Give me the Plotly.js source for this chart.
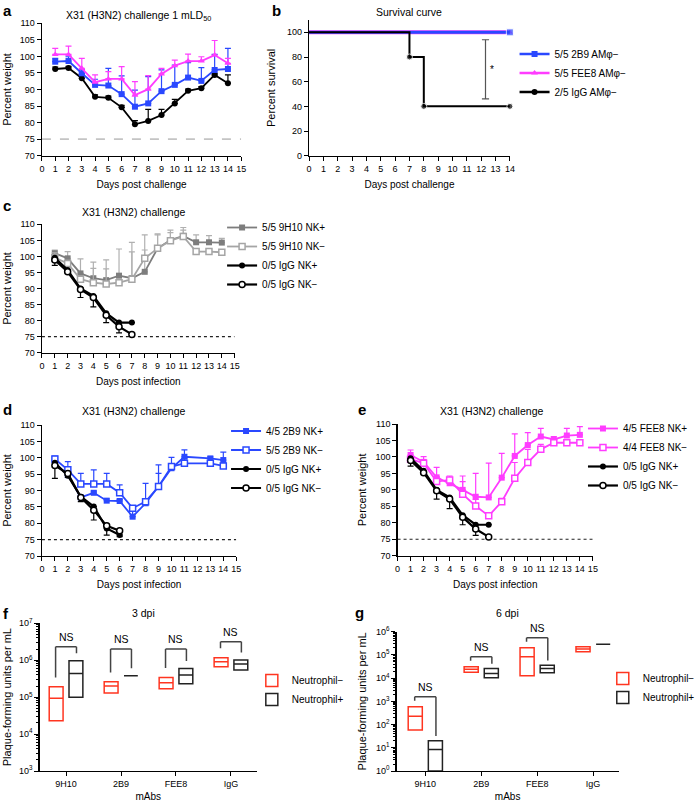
<!DOCTYPE html>
<html><head><meta charset="utf-8">
<script src="https://cdn.plot.ly/plotly-3.0.1.min.js"></script>
<style>html,body{margin:0;padding:0;background:#fff}#chart{width:700px;height:805px}</style>
</head><body><div id="chart"></div>
<script>
// ================= DATA =================
// Panel a: weight after 1 mLD50 X31 challenge (AMφ depleted)
const daysA = [1,2,3,4,5,6,7,8,9,10,11,12,13,14];
const a2B9     = [98.4,98.6,94.9,91.4,91.2,88.6,84.8,85.8,89.5,91.4,93.6,92.6,95.9,96.2];
const a2B9Err  = [1.0,1.3,1.2,1.7,5.2,5.5,5.0,8.1,6.4,6.0,4.5,4.0,4.7,6.2];
const aFEE8    = [100.6,100.6,96.4,92.2,93.2,93.2,88.3,90.1,94.7,97.2,98.6,98.6,100.4,97.9];
const aFEE8Err = [1.8,2.5,3.0,2.2,2.2,3.7,4.1,4.1,1.7,1.7,2.1,1.3,4.4,1.5];
const aIgG     = [96.2,96.5,93.4,87.8,87.5,84.6,79.5,80.5,82.3,85.8,89.6,90.4,94.4,91.9];
const aIgGErr  = [0.6,0.5,1.2,0.6,0.5,0.6,1.1,3.5,1.7,1.2,0.5,0.5,0.5,2.5];

// Panel b: survival
const survDays2B9  = [0,14];  const surv2B9  = [100,100];
const survDaysFEE8 = [0,14];  const survFEE8 = [100,100];
const survDaysIgG  = [0,7,8,14]; const survIgG = [100,80,40,40];
const survNames = ['5/5 2B9 AMφ−','5/5 FEE8 AMφ−','2/5 IgG AMφ−'];

// Panel c: 9H10 with NK depletion
const daysC = [1,2,3,4,5,6,7,8,9,10,11,12,13,14];
const c9H10Pos    = [101.0,99.4,94.7,93.2,92.6,94.0,93.2,95.2,102.5,105.1,106.4,104.4,104.4,104.3];
const c9H10PosErr = [1.0,2.1,4.5,5.0,6.3,8.3,11.2,11.5,4.5,3.1,2.6,2.3,2.1,1.3];
const c9H10Neg    = [99.6,97.8,92.9,91.8,91.4,91.8,92.9,99.4,102.5,104.9,106.2,101.5,101.5,101.3];
const c9H10NegErr = [1.5,1.0,1.0,4.5,4.7,1.0,8.5,2.6,4.2,2.5,2.0,0.5,0.5,0.5];
// IgG control groups shared by panels c and e
const daysIgG7 = [1,2,3,4,5,6,7];
const ctrlIgGPos       = [99.6,95.8,90.0,87.7,82.3,79.4,79.4];
const ctrlIgGPosErrLow = [2.4,0.5,2.8,3.4,2.9,3.2,0];
const ctrlIgGNeg       = [98.9,95.2,89.7,87.2,81.7,78.1,75.7];

// Panel d: 2B9 with NK depletion
const daysD = [1,2,3,4,5,6,7,8,9,10,11,13,14];
const d2B9Pos    = [98.3,94.7,87.9,89.3,86.9,86.8,82.0,86.1,91.2,96.8,100.3,99.8,99.3];
const d2B9PosErr = [0.8,1.5,0.5,0.5,0.5,0.5,2.0,1.0,4.0,0.8,2.1,0.5,2.4];
const d2B9Neg    = [99.6,96.3,92.0,92.0,92.0,89.3,84.6,86.6,91.2,97.3,98.3,98.3,97.5];
const d2B9NegErr = [0.9,2.5,3.2,4.3,3.2,2.4,0.5,5.6,6.6,2.8,1.5,0.5,0.5];
const daysIgG6 = [1,2,3,4,5,6];
const dIgGPos       = [98.5,94.5,88.1,85.1,78.4,76.4];
const dIgGPosErrLow = [4.8,0.5,1.5,4.1,2.0,0.5];
const dIgGNeg       = [97.6,95.2,87.9,84.0,79.2,77.7];

// Panel e: FEE8 with NK depletion
const daysE = [1,2,3,4,5,6,7,8,9,10,11,12,13,14];
const eFEE8Pos    = [100.6,98.5,93.8,92.0,90.0,87.9,87.7,93.7,100.3,103.6,106.2,105.3,106.5,106.7];
const eFEE8PosErr = [1.5,1.6,3.0,1.5,4.2,7.1,10.4,7.4,6.7,3.8,2.5,0.9,2.2,2.5];
const eFEE8Neg    = [99.3,98.1,92.5,93.0,88.7,85.1,82.1,86.4,93.5,98.3,102.3,104.3,104.3,104.3];
const eFEE8NegErr = [0.5,1.0,1.5,1.2,3.8,2.0,1.0,1.0,4.8,4.0,1.5,0.5,0.5,0.5];

// Panels f, g: lung titres (min / median / max)
const mAbs = ['9H10','2B9','FEE8','IgG'];
const fNegMin = [2.3e4,1.3e5,1.7e5,6.7e5];
const fNegMed = [9.4e4,2.0e5,2.45e5,9.1e5];
const fNegMax = [1.9e5,2.6e5,3.4e5,1.17e6];
const fPosMin = [1.0e5,3.8e5,2.3e5,5.4e5];
const fPosMed = [4.4e5,3.8e5,4.0e5,7.9e5];
const fPosMax = [9.7e5,3.8e5,6.0e5,1.01e6];
const fNS = ['9H10','2B9','FEE8','IgG'];

const gNegMin = [58,1.8e4,1.26e4,1.37e5];
const gNegMed = [230,2.4e4,8.4e4,1.8e5];
const gNegMax = [590,3.1e4,2.04e5,2.25e5];
const gPosMin = [1,1.05e4,1.7e4,2.9e5];
const gPosMed = [8.5,1.6e4,2.6e4,2.9e5];
const gPosMax = [20,2.6e4,3.6e4,2.9e5];
const gNS = ['9H10','2B9','FEE8'];

const fExp = [3,4,5,6,7];
const gExp = [0,1,2,3,4,5,6];
const THRESHOLD = 75;

// ================= STYLE / LAYOUT =================
const W = 700, H = 805;
const FONT = '"Liberation Sans", Arial, Helvetica, sans-serif';
const BLUE = '#2a48ff', PINK = '#ff3cff', BLACK = '#000000';
const GREY1 = '#7d7d7d', GREY2 = '#a5a5a5', GREYERR = '#b0b0b0', RED = '#ff3520';

function dom(x0, x1, top, bottom) { return {x: [x0 / W, x1 / W], y: [1 - bottom / H, 1 - top / H]}; }
const D = {
  a: dom(42.3, 243.3, 23.3, 155.7),
  b: dom(311.7, 514.3, 20, 155.7),
  c: dom(42.3, 236.7, 224.3, 352.7),
  d: dom(42.3, 238.3, 425, 556),
  e: dom(401, 598, 424, 555.7),
  f: dom(40, 259, 623.3, 771),
  g: dom(400, 624, 631.7, 771)
};

const zeros = n => new Array(n).fill(0);

function wline(xa, ya, xs, ys, errUp, errDown, color, symbol, open, name, legend, opt) {
  opt = opt || {};
  return {
    type: 'scatter', mode: 'lines+markers', x: xs, y: ys, xaxis: xa, yaxis: ya,
    name: name || '', legend: legend || 'legend', showlegend: !!name,
    line: {color: opt.lineColor || color, width: opt.lw || 1.8},
    marker: {symbol: symbol, size: opt.ms || 6, color: open ? '#ffffff' : color,
             line: {color: color, width: open ? 1.5 : 0}},
    error_y: {type: 'data', symmetric: false, array: errUp || zeros(ys.length),
              arrayminus: errDown || zeros(ys.length), color: opt.errColor || color,
              thickness: 1.2, width: 3},
    cliponaxis: false, hoverinfo: 'skip'
  };
}

const traces = [];
// ---- a ----
traces.push(wline('x','y', daysA, aIgG, aIgGErr, null, BLACK, 'circle', false));
traces.push(wline('x','y', daysA, a2B9, a2B9Err, null, BLUE, 'square', false));
traces.push(wline('x','y', daysA, aFEE8, aFEE8Err, null, PINK, 'triangle-up', false));

// ---- b ----
function survTrace(xs, ys, color, symbol, lw, ms) {
  return {type: 'scatter', mode: 'lines+markers', x: xs, y: ys, xaxis: 'x2', yaxis: 'y2',
    line: {color: color, width: lw, shape: 'hv'},
    marker: {symbol: symbol, color: color, size: xs.map((v, i) => i === 0 ? 0 : ms)},
    showlegend: false, cliponaxis: false, hoverinfo: 'skip'};
}
traces.push(survTrace(survDaysFEE8, survFEE8, PINK, 'triangle-up', 4, 7));
traces.push(survTrace(survDays2B9, surv2B9, BLUE, 'square', 3, 7));
traces.push(survTrace(survDaysIgG, survIgG, BLACK, 'circle', 2, 6));
// legend entries for b
[[BLUE,'square'],[PINK,'triangle-up'],[BLACK,'circle']].forEach((s, i) => {
  traces.push({type: 'scatter', mode: 'lines+markers', x: [null], y: [null], xaxis: 'x2', yaxis: 'y2',
    name: survNames[i], legend: 'legend', showlegend: true,
    line: {color: s[0], width: 2.5}, marker: {symbol: s[1], color: s[0], size: 6}, hoverinfo: 'skip'});
});

// ---- c ----
traces.push(wline('x3','y3', daysC, c9H10Pos, c9H10PosErr, null, GREY1, 'square', false, '5/5 9H10 NK+', 'legend2', {errColor: GREYERR}));
traces.push(wline('x3','y3', daysC, c9H10Neg, c9H10NegErr, null, GREY2, 'square', true, '5/5 9H10 NK−', 'legend2', {errColor: GREYERR}));
traces.push(wline('x3','y3', daysIgG7, ctrlIgGPos, null, ctrlIgGPosErrLow, BLACK, 'circle', false, '0/5 IgG NK+', 'legend2', {lw: 2.2}));
traces.push(wline('x3','y3', daysIgG7, ctrlIgGNeg, null, null, BLACK, 'circle', true, '0/5 IgG NK−', 'legend2', {lw: 2.2}));

// ---- d ----
traces.push(wline('x4','y4', daysD, d2B9Pos, d2B9PosErr, null, BLUE, 'square', false, '4/5 2B9 NK+', 'legend3'));
traces.push(wline('x4','y4', daysD, d2B9Neg, d2B9NegErr, null, BLUE, 'square', true, '5/5 2B9 NK−', 'legend3'));
traces.push(wline('x4','y4', daysIgG6, dIgGPos, null, dIgGPosErrLow, BLACK, 'circle', false, '0/5 IgG NK+', 'legend3', {lw: 2.2}));
traces.push(wline('x4','y4', daysIgG6, dIgGNeg, null, null, BLACK, 'circle', true, '0/5 IgG NK−', 'legend3', {lw: 2.2}));

// ---- e ----
traces.push(wline('x5','y5', daysE, eFEE8Pos, eFEE8PosErr, null, PINK, 'square', false, '4/5 FEE8 NK+', 'legend4'));
traces.push(wline('x5','y5', daysE, eFEE8Neg, eFEE8NegErr, null, PINK, 'square', true, '4/4 FEE8 NK−', 'legend4'));
traces.push(wline('x5','y5', daysIgG7, ctrlIgGPos, null, ctrlIgGPosErrLow, BLACK, 'circle', false, '0/5 IgG NK+', 'legend4', {lw: 2.2}));
traces.push(wline('x5','y5', daysIgG7, ctrlIgGNeg, null, null, BLACK, 'circle', true, '0/5 IgG NK−', 'legend4', {lw: 2.2}));

// ---- f, g : floating boxes (min–max, line at median) ----
function boxTrace(xa, ya, mins, meds, maxs, color, name, legend, group, slot) {
  return {type: 'box', x: mAbs, q1: mins, median: meds, q3: maxs, lowerfence: mins, upperfence: maxs,
    xaxis: xa, yaxis: ya, name: name, legend: legend, showlegend: true,
    alignmentgroup: group, offsetgroup: slot,
    line: {color: color, width: 1.5}, fillcolor: 'rgba(255,255,255,0)', whiskerwidth: 0,
    boxpoints: false, hoverinfo: 'skip'};
}
traces.push(boxTrace('x6','y6', fNegMin, fNegMed, fNegMax, RED, 'Neutrophil−', 'legend5', 'f', 'neg'));
traces.push(boxTrace('x6','y6', fPosMin, fPosMed, fPosMax, '#222222', 'Neutrophil+', 'legend5', 'f', 'pos'));
traces.push(boxTrace('x7','y7', gNegMin, gNegMed, gNegMax, RED, 'Neutrophil−', 'legend6', 'g', 'neg'));
traces.push(boxTrace('x7','y7', gPosMin, gPosMed, gPosMax, '#222222', 'Neutrophil+', 'legend6', 'g', 'pos'));

// ================= SHAPES / ANNOTATIONS =================
const shapes = [];
const annotations = [];
function ann(text, xpx, ypx, o) {
  return Object.assign({xref: 'paper', yref: 'paper', x: xpx / W, y: 1 - ypx / H, text: text,
    showarrow: false, font: {family: FONT, size: 10.5, color: '#000'}, xanchor: 'center', yanchor: 'middle'}, o || {});
}
// threshold lines
shapes.push({type: 'line', xref: 'x', yref: 'y', x0: 0, x1: 15, y0: THRESHOLD, y1: THRESHOLD,
  line: {color: '#c4c4c4', width: 1.6, dash: 'dash'}, layer: 'below'});
['3','4','5'].forEach(k => shapes.push({type: 'line', xref: 'x' + k, yref: 'y' + k, x0: 0, x1: 15,
  y0: THRESHOLD, y1: THRESHOLD, line: {color: '#222', width: 1.1, dash: 'dot'}, layer: 'below'}));

// survival significance bracket
const sigX = 12.3, sigTop = Math.max(...surv2B9) - 6, sigBot = Math.min(...survIgG) + 6;
const capHalf = 0.25;
shapes.push({type: 'line', xref: 'x2', yref: 'y2', x0: sigX, x1: sigX, y0: sigBot, y1: sigTop, line: {color: '#555', width: 1.2}});
shapes.push({type: 'line', xref: 'x2', yref: 'y2', x0: sigX - capHalf, x1: sigX + capHalf, y0: sigTop, y1: sigTop, line: {color: '#555', width: 1.2}});
shapes.push({type: 'line', xref: 'x2', yref: 'y2', x0: sigX - capHalf, x1: sigX + capHalf, y0: sigBot, y1: sigBot, line: {color: '#555', width: 1.2}});
annotations.push({xref: 'x2', yref: 'y2', x: sigX + 0.45, y: (sigTop + sigBot) / 2, text: '*', showarrow: false,
  font: {family: FONT, size: 10, color: '#000'}});

// NS brackets for f and g (computed from group maxima)
function nsBrackets(k, cats, negMax, posMax, floor) {
  cats.forEach(c => {
    const i = mAbs.indexOf(c);
    const left = negMax[i] * 1.8, right = posMax[i] * 1.6;
    const top = Math.max(Math.max(left, right) * 1.5, floor);
    const xl = i - 0.19, xr = i + 0.19;
    const ln = {color: '#444', width: 1.5};
    shapes.push({type: 'line', xref: 'x' + k, yref: 'y' + k, x0: xl, x1: xl, y0: left, y1: top, line: ln});
    shapes.push({type: 'line', xref: 'x' + k, yref: 'y' + k, x0: xl, x1: xr, y0: top, y1: top, line: ln});
    shapes.push({type: 'line', xref: 'x' + k, yref: 'y' + k, x0: xr, x1: xr, y0: top, y1: right, line: ln});
    annotations.push({xref: 'x' + k, yref: 'y' + k, x: i, y: Math.log10(top), text: 'NS', showarrow: false,
      yanchor: 'bottom', yshift: 2, font: {family: FONT, size: 10.5, color: '#000'}});
  });
}
nsBrackets('6', fNS, fNegMax, fPosMax, 2e6);
nsBrackets('7', gNS, gNegMax, gPosMax, 0);

// panel letters
const letterFont = {family: FONT, size: 15, color: '#000', weight: 'bold'};
[['a',1,10],['b',272,10],['c',1,206],['d',1,409],['e',359,410],['f',1,613],['g',356,612]].forEach(l =>
  annotations.push(ann('<b>' + l[0] + '</b>', l[1], l[2], {xanchor: 'left', font: letterFont})));
// panel titles
annotations.push(ann('X31 (H3N2) challenge 1 mLD<sub>50</sub>', 140, 16));
annotations.push(ann('Survival curve', 413, 12.5));
annotations.push(ann('X31 (H3N2) challenge', 135, 212));
annotations.push(ann('X31 (H3N2) challenge', 135, 411));
annotations.push(ann('X31 (H3N2) challenge', 496, 411));
annotations.push(ann('3 dpi', 145, 613));
annotations.push(ann('6 dpi', 512, 613));

// ================= AXES =================
const axBase = {showgrid: false, zeroline: false, showline: true, linecolor: '#000', linewidth: 1.3,
  ticks: 'outside', ticklen: 4, tickwidth: 1, tickcolor: '#000',
  tickfont: {family: FONT, size: 9, color: '#000'}, fixedrange: true};
function ax(o) { return Object.assign({}, axBase, o); }
function ttl(text, standoff, size) { return {text: text, standoff: standoff, font: {family: FONT, size: size || 10, color: '#000'}}; }

function minorLog(exps) {
  const v = [];
  for (let e = exps[0]; e < exps[exps.length - 1]; e++) for (let m = 2; m <= 9; m++) v.push(m * Math.pow(10, e));
  return v;
}

const layout = {
  width: W, height: H, margin: {l: 0, r: 0, t: 0, b: 0}, paper_bgcolor: '#fff', plot_bgcolor: 'rgba(0,0,0,0)',
  font: {family: FONT, size: 10, color: '#000'}, showlegend: true, boxmode: 'group', boxgap: 0.28, boxgroupgap: 0.3,
  xaxis:  ax({domain: D.a.x, anchor: 'y',  range: [0, 15], tick0: 0, dtick: 1, title: ttl('Days post challenge', 8)}),
  yaxis:  ax({domain: D.a.y, anchor: 'x',  range: [70, 110], tick0: 70, dtick: 5, title: ttl('Percent weight', 6, 11)}),
  xaxis2: ax({domain: D.b.x, anchor: 'y2', range: [0, 14], tick0: 0, dtick: 1, title: ttl('Days post challenge', 8)}),
  yaxis2: ax({domain: D.b.y, anchor: 'x2', range: [0, 110], tickvals: [0,20,40,60,80,100], title: ttl('Percent survival', 9, 11)}),
  xaxis3: ax({domain: D.c.x, anchor: 'y3', range: [0, 15], tick0: 0, dtick: 1, title: ttl('Days post infection', 8)}),
  yaxis3: ax({domain: D.c.y, anchor: 'x3', range: [70, 110], tick0: 70, dtick: 5, title: ttl('Percent weight', 6, 11)}),
  xaxis4: ax({domain: D.d.x, anchor: 'y4', range: [0, 15], tick0: 0, dtick: 1, title: ttl('Days post infection', 8)}),
  yaxis4: ax({domain: D.d.y, anchor: 'x4', range: [70, 110], tick0: 70, dtick: 5, title: ttl('Percent weight', 6, 11)}),
  xaxis5: ax({domain: D.e.x, anchor: 'y5', range: [0, 15], tick0: 0, dtick: 1, title: ttl('Days post infection', 8)}),
  yaxis5: ax({domain: D.e.y, anchor: 'x5', range: [70, 110], tick0: 70, dtick: 5, title: ttl('Percent weight', 6, 11)}),
  xaxis6: ax({domain: D.f.x, anchor: 'y6', type: 'category', range: [-0.48, 3.47], title: ttl('mAbs', 5)}),
  yaxis6: ax({domain: D.f.y, anchor: 'x6', type: 'log', range: [3, 7],
    tickvals: fExp.map(e => Math.pow(10, e)), ticktext: fExp.map(e => '10<sup>' + e + '</sup>'),
    minor: {tickmode: 'array', tickvals: minorLog(fExp), ticks: 'outside', ticklen: 2.5, tickcolor: '#000', tickwidth: 1},
    title: ttl('Plaque-forming units per mL', 5, 11)}),
  xaxis7: ax({domain: D.g.x, anchor: 'y7', type: 'category', range: [-0.514, 3.457], title: ttl('mAbs', 5)}),
  yaxis7: ax({domain: D.g.y, anchor: 'x7', type: 'log', range: [0, 6],
    tickvals: gExp.map(e => Math.pow(10, e)), ticktext: gExp.map(e => '10<sup>' + e + '</sup>'),
    minor: {tickmode: 'array', tickvals: minorLog(gExp), ticks: 'outside', ticklen: 2.5, tickcolor: '#000', tickwidth: 1},
    title: ttl('Plaque-forming units per mL', 7, 11)}),
  shapes: shapes, annotations: annotations
};
const legBase = {bgcolor: 'rgba(0,0,0,0)', borderwidth: 0, font: {family: FONT, size: 10, color: '#000'},
  xanchor: 'left', yanchor: 'middle', tracegroupgap: 0, traceorder: 'normal'};
function leg(xpx, ycpx) { return Object.assign({}, legBase, {x: xpx / W, y: 1 - ycpx / H}); }
layout.legend  = leg(519, 73);
layout.legend2 = leg(224, 256);
layout.legend3 = leg(228, 459.5);
layout.legend4 = leg(588, 457);
layout.legend5 = leg(254, 690);
layout.legend6 = leg(608, 688);

Plotly.newPlot('chart', traces, layout, {staticPlot: true, displayModeBar: false});
</script>
</body></html>
